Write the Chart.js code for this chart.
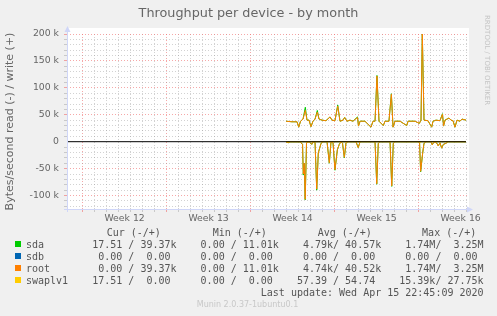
<!DOCTYPE html>
<html>
<head>
<meta charset="utf-8">
<script src="https://cdn.jsdelivr.net/npm/chart.js@4"></script>
<style>
  body { margin: 0; background: #f0f0f0; width: 497px; height: 316px; overflow: hidden; position: relative; font-family: "DejaVu Sans", sans-serif; }
  #munin { position: absolute; left: 0; top: 0; }
  .abs { position: absolute; white-space: pre; }
  #title { left: 0; width: 497px; top: 5px; line-height: 16px; text-align: center; font-size: 12.8px; color: #666; }
  #rrd { left: 483px; top: 15px; writing-mode: vertical-rl; font-size: 7px; color: #c4c4c4; }
  .mono { font-family: "DejaVu Sans Mono", monospace; font-size: 10px; line-height: 12px; color: #555; }
  .sq { position: absolute; left: 15px; width: 6px; height: 6px; }
  #ver { left: 0; width: 495px; text-align: center; top: 299px; line-height: 12px; font-size: 8px; color: #c8c8c8; }
</style>
</head>
<body>
<canvas id="munin" width="497" height="316"></canvas>
<div id="title" class="abs">Throughput per device - by month</div>
<div id="rrd" class="abs">RRDTOOL / TOBI OETIKER</div>
<div id="legend"></div>
<div id="ver" class="abs">Munin 2.0.37-1ubuntu0.1</div>
<script>
// x values are days counted from the left edge of the month graph, y values in kB/s
const weekLabels = ['Week 12', 'Week 13', 'Week 14', 'Week 15', 'Week 16'];
const weekStarts = [1.3, 8.3, 15.3, 22.3, 29.3];
const xMax = 33.333;

const writeTimes = [18.25,18.75,19.17,19.31,19.46,19.67,19.86,20.0,20.17,20.33,20.5,20.67,20.86,21.0,21.25,21.58,21.92,22.08,22.33,22.56,22.75,23.0,23.14,23.33,23.58,23.83,24.21,24.29,24.42,24.83,25.33,25.5,25.67,25.83,26.0,26.36,26.5,26.83,27.03,27.17,27.33,27.75,28.31,28.42,29.0,29.36,29.5,29.61,29.75,30.08,30.39,30.5,30.75,31.08,31.29,31.38,31.5,31.67,31.83,32.0,32.17,32.33,32.5,32.75,32.92,33.25];
const rootWrite = [38,37,37,27,38,42,58,40,40,28,38,42,55,42,40,39,46,40,39,66,38,40,45,38,40,38,45,29,38,38,27,38,38,122,38,30,38,38,88,27,38,38,30,38,38,34,40,200,40,39,27,38,40,39,51,29,40,42,44,40,39,27,40,38,42,40];
const sdaWrite  = [38,37,37,27,38,42,64,40,40,28,38,42,58,42,40,39,46,40,39,68,38,40,45,38,40,38,46,29,38,38,27,38,38,123,38,30,38,38,89,27,38,38,30,38,38,34,40,200,40,39,27,38,40,39,52,29,40,42,44,40,39,27,40,38,42,40];

const readTimes = [18.25,18.43,18.58,19.42,19.63,19.69,19.77,19.85,19.96,20.17,20.39,20.5,20.67,20.81,20.94,21.17,21.33,21.67,21.86,22.0,22.17,22.33,22.53,22.69,22.83,22.96,23.11,23.25,23.42,24.08,24.27,24.42,25.67,25.81,25.94,26.08,26.92,27.06,27.19,27.33,29.25,29.38,29.47,29.64,29.75,29.92,30.33,30.44,30.58,30.83,30.94,31.08,31.22,31.36,31.58,31.75,33.25];
const rootRead = [0,-2,0,0,-5,-60,-40,-107,-2,0,-5,0,-1,-88,-21,-3,0,0,-39,0,-2,-52,-15,-5,0,-3,-29,-2,0,0,-11,0,0,-78,-3,0,0,-82,-3,0,0,-2,-55,-21,-3,0,0,-6,0,-3,-8,-2,-12,-5,-3,0,0];
const sdaRead  = [0,-2,0,0,-5,-62,-40,-108,-2,0,-5,0,-1,-90,-21,-3,0,0,-40,0,-2,-53,-15,-5,0,-3,-30,-2,0,0,-11,0,0,-79,-3,0,0,-83,-3,0,0,-2,-56,-21,-3,0,0,-6,0,-3,-8,-2,-12,-5,-3,0,0];

const swapTimes = [18.25,18.43,18.58,29.38,29.47,29.56,33.25];
const swapRead  = [0,-1,0,0,-2,0,0];
const swapWrite = [0,0,0,0,0,0,0];

const sdbTimes = [18.25,33.25];
const sdbRead  = [0,0];
const sdbWrite = [0,0];

const zeroTimes = [0, 33.25];
const zeroLine  = [0, 0];

const devices = ['sda', 'sdb', 'root', 'swaplv1'];
const deviceColors = ['#00cc00', '#0066b3', '#ff8000', '#ffcc00'];
const columnHeads = ['Cur (-/+)', 'Min (-/+)', 'Avg (-/+)', 'Max (-/+)'];
const curText = [' 17.51 / 39.37k', '  0.00 /  0.00 ', '  0.00 / 39.37k', ' 17.51 /  0.00 '];
const minText = ['  0.00 / 11.01k', '  0.00 /  0.00 ', '  0.00 / 11.01k', '  0.00 /  0.00 '];
const avgText = ['  4.79k/ 40.57k', '  0.00 /  0.00 ', '  4.74k/ 40.52k', ' 57.39 / 54.74 '];
const maxText = ['  1.74M/  3.25M', '  0.00 /  0.00 ', '  1.74M/  3.25M', ' 15.39k/ 27.75k'];
const lastUpdate = 'Last update: Wed Apr 15 22:45:09 2020';

function pts(times, vals) {
  return times.map((t, i) => ({ x: t, y: vals[i] }));
}

// grid positions: one line per day, red one per week, week label in the middle
const dayLines = [];
for (let k = 0; weekStarts[0] + k <= xMax; k++) dayLines.push(+(weekStarts[0] + k).toFixed(2));
const labelPos = weekStarts.map(w => +(w + 3.5).toFixed(2));
const isWeek = v => weekStarts.some(w => Math.abs(w - v) < 0.01);
const labelIdx = v => labelPos.findIndex(p => Math.abs(p - v) < 0.01);

const yLines = [];
for (let v = -120; v <= 200; v += 10) yLines.push(v);

const minorGrid = 'rgba(143,143,143,0.4)';
const majorGrid = 'rgba(240,110,110,0.6)';

const canvasBg = {
  id: 'canvasBg',
  beforeDraw(chart) {
    const { ctx, chartArea: a } = chart;
    ctx.save();
    ctx.fillStyle = '#ffffff';
    ctx.fillRect(a.left, a.top - 6, a.right - a.left + 2, a.bottom - a.top + 6);
    ctx.restore();
  }
};

const axisArrows = {
  id: 'axisArrows',
  afterDraw(chart) {
    const { ctx, chartArea: a } = chart;
    ctx.save();
    ctx.strokeStyle = '#cfd6f8';
    ctx.fillStyle = '#cfd6f8';
    ctx.lineWidth = 1;
    ctx.beginPath();
    ctx.moveTo(a.left + 0.5, a.bottom + 3);
    ctx.lineTo(a.left + 0.5, a.top - 4);
    ctx.moveTo(a.left - 3, a.bottom + 0.5);
    ctx.lineTo(a.right + 2, a.bottom + 0.5);
    ctx.stroke();
    ctx.beginPath();
    ctx.moveTo(a.left + 0.5, a.top - 8);
    ctx.lineTo(a.left - 2.5, a.top - 2);
    ctx.lineTo(a.left + 3.5, a.top - 2);
    ctx.closePath();
    ctx.moveTo(a.right + 6, a.bottom + 0.5);
    ctx.lineTo(a.right, a.bottom - 2.5);
    ctx.lineTo(a.right, a.bottom + 3.5);
    ctx.closePath();
    ctx.fill();
    ctx.restore();
  }
};

function line(label, times, vals, color, order) {
  return {
    label: label,
    data: pts(times, vals),
    borderColor: color,
    borderWidth: 1,
    pointRadius: 0,
    fill: false,
    tension: 0,
    order: order
  };
}

Chart.defaults.font.family = 'DejaVu Sans';

new Chart(document.getElementById('munin').getContext('2d'), {
  type: 'line',
  data: {
    datasets: [
      line('zero', zeroTimes, zeroLine, '#000000', 0),
      line('swaplv1 read', swapTimes, swapRead, '#ffcc00', 1),
      line('swaplv1 write', swapTimes, swapWrite, '#ffcc00', 1),
      line('root read', readTimes, rootRead, '#ff8000', 2),
      line('root write', writeTimes, rootWrite, '#ff8000', 2),
      line('sdb read', sdbTimes, sdbRead, '#0066b3', 3),
      line('sdb write', sdbTimes, sdbWrite, '#0066b3', 3),
      line('sda read', readTimes, sdaRead, '#00cc00', 4),
      line('sda write', writeTimes, sdaWrite, '#00cc00', 4)
    ]
  },
  options: {
    responsive: false,
    devicePixelRatio: 1,
    animation: false,
    layout: { padding: { top: 34, right: 30, bottom: 87, left: 0 } },
    plugins: { legend: { display: false }, tooltip: { enabled: false } },
    scales: {
      x: {
        type: 'linear',
        min: 0,
        max: xMax,
        afterBuildTicks: s => { s.ticks = dayLines.concat(labelPos).sort((a, b) => a - b).map(v => ({ value: v })); },
        afterFit: s => { s.height = 20; },
        ticks: {
          autoSkip: false,
          maxRotation: 0,
          minRotation: 0,
          padding: 1,
          color: '#666',
          font: { size: 9.3 },
          callback: v => { const i = labelIdx(v); return i >= 0 ? weekLabels[i] : ''; }
        },
        grid: {
          tickLength: 3,
          color: c => {
            if (!c.tick || labelIdx(c.tick.value) >= 0) return 'rgba(0,0,0,0)';
            return isWeek(c.tick.value) ? majorGrid : minorGrid;
          }
        },
        border: { display: false, dash: [1, 2] }
      },
      y: {
        min: -125,
        max: 200,
        afterBuildTicks: s => { s.ticks = yLines.map(v => ({ value: v })); },
        afterFit: s => { s.width = 67; },
        ticks: {
          autoSkip: false,
          padding: 5,
          color: '#666',
          font: { size: 9.3 },
          callback: v => (v % 50 === 0 ? (v === 0 ? '0' : v + ' k') : '')
        },
        grid: {
          tickLength: 3,
          color: c => {
            if (!c.tick || c.tick.value === 0) return 'rgba(0,0,0,0)';
            return c.tick.value % 50 === 0 ? majorGrid : minorGrid;
          }
        },
        border: { display: false, dash: [1, 2] },
        title: {
          display: true,
          text: 'Bytes/second read (-) / write (+)',
          color: '#666',
          font: { size: 11 },
          padding: { top: 4, bottom: 0 }
        }
      }
    }
  },
  plugins: [canvasBg, axisArrows]
});

// legend table under the graph, laid out like the rrdtool text
const legend = document.getElementById('legend');
const headX = [106.7, 212.7, 317.7, 422.1];
columnHeads.forEach((h, i) => {
  const d = document.createElement('div');
  d.className = 'abs mono';
  d.style.left = headX[i] + 'px';
  d.style.top = '226.7px';
  d.textContent = h;
  legend.appendChild(d);
});
const rowTops = [239, 250.8, 262.6, 274.6];
devices.forEach((name, i) => {
  const sq = document.createElement('div');
  sq.className = 'sq';
  sq.style.top = (rowTops[i] + 2) + 'px';
  sq.style.background = deviceColors[i];
  legend.appendChild(sq);
  const d = document.createElement('div');
  d.className = 'abs mono';
  d.style.left = '26px';
  d.style.top = rowTops[i] + 'px';
  d.textContent = name.padEnd(10) + curText[i] + '  ' + minText[i] + '  ' + avgText[i] + '  ' + maxText[i];
  legend.appendChild(d);
});
const lu = document.createElement('div');
lu.className = 'abs mono';
lu.style.left = '260.8px';
lu.style.top = '286.7px';
lu.textContent = lastUpdate;
legend.appendChild(lu);
</script>
</body>
</html>
